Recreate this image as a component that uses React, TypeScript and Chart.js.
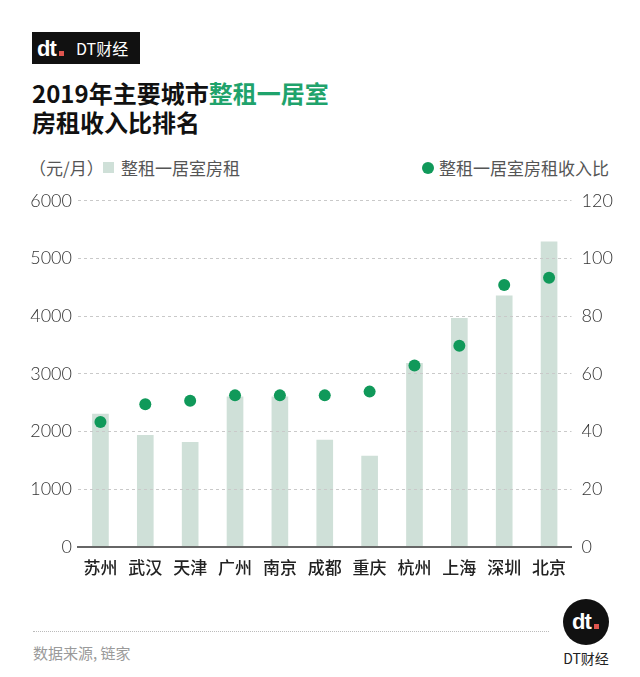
import React, { useEffect, useRef } from "react";
import { Chart, registerables } from "chart.js";

Chart.register(...registerables);

const cities = ["苏州", "武汉", "天津", "广州", "南京", "成都", "重庆", "杭州", "上海", "深圳", "北京"];
const rent = [2300, 1930, 1810, 2600, 2600, 1850, 1570, 3180, 3960, 4350, 5290];
const ratio = [43.3, 49.4, 50.6, 52.5, 52.5, 52.5, 53.8, 62.9, 69.7, 90.8, 93.3];
const rentTickStep = 1000;
const ratioTickStep = 20;

const CJK = '"Noto Sans CJK SC", "Noto Sans", sans-serif';
const NUM = 'Lato, "Noto Sans", sans-serif';
const GREEN = "#10995a";
const BAR = "#cfe0d8";

function DtGlyph({ x, y, scale = 1 }: { x: number; y: number; scale?: number }) {
  return (
    <div style={{ position: "absolute", left: x, top: y, width: 28 * scale, height: 16 * scale }}>
      <div style={{ position: "absolute", left: 0, top: 0, fontFamily: '"Liberation Sans", Arial, sans-serif', fontWeight: 900, fontSize: 22 * scale, lineHeight: `${16 * scale}px`, color: "#fff", letterSpacing: -1 * scale }}>dt</div>
      <div style={{ position: "absolute", left: 22 * scale, top: 10 * scale, width: 5 * scale, height: 5 * scale, background: "#e0554f" }} />
    </div>
  );
}

export default function App() {
  const ref = useRef<HTMLCanvasElement>(null);
  useEffect(() => {
    document.body.style.margin = "0";
    const chart = new Chart(ref.current!, {
      type: "bar",
      data: {
        labels: cities,
        datasets: [
          {
            type: "line",
            data: ratio,
            yAxisID: "y1",
            showLine: false,
            pointRadius: 6,
            pointHoverRadius: 6,
            pointBackgroundColor: GREEN,
            pointBorderWidth: 0,
            order: 0,
          } as any,
          {
            type: "bar",
            data: rent,
            yAxisID: "y",
            backgroundColor: BAR,
            barThickness: 16,
            order: 1,
          },
        ],
      },
      options: {
        responsive: false,
        animation: false,
        devicePixelRatio: 1,
        layout: { padding: { top: 18.7, left: 0, right: 0, bottom: 0 } },
        plugins: { legend: { display: false }, tooltip: { enabled: false } },
        scales: {
          x: {
            grid: { display: false },
            border: { display: true, color: "#666", width: 2, z: 2 },
            ticks: { color: "#222", font: { size: 17, family: CJK, weight: 500 }, padding: 3 },
            afterFit(a: any) { a.height = 33.3; },
          },
          y: {
            position: "left",
            min: 0,
            max: 6000,
            ticks: { stepSize: rentTickStep, color: "#333", font: { size: 18, family: NUM, weight: 300 }, padding: 6, callback: (v: any) => String(v) },
            grid: { color: "#c9c9c9", lineWidth: 1, drawTicks: false, z: 1 },
            border: { display: false, dash: [3, 3] },
            afterFit(a: any) { a.width = 78; },
          },
          y1: {
            position: "right",
            min: 0,
            max: 120,
            ticks: { stepSize: ratioTickStep, color: "#333", font: { size: 18, family: NUM, weight: 300 }, padding: 10, callback: (v: any) => String(v) },
            grid: { display: false, drawTicks: false },
            border: { display: false },
            afterFit(a: any) { a.width = 68.5; },
          },
        },
      },
    });
    return () => chart.destroy();
  }, []);

  return (
    <div style={{ position: "relative", width: 640, height: 677, background: "#fff", overflow: "hidden", fontFamily: CJK }}>
      {/* header badge */}
      <div style={{ position: "absolute", left: 32, top: 32, width: 108, height: 32, background: "#111" }}>
        <DtGlyph x={5} y={9} />
        <div style={{ position: "absolute", left: 44, top: 0, height: 32, lineHeight: "32px", color: "#fff", fontSize: 16 }}>DT财经</div>
      </div>
      {/* title */}
      <div style={{ position: "absolute", left: 32, top: 78, fontSize: 24, fontWeight: 700, lineHeight: "29px", color: "#111" }}>
        <div>2019年主要城市<span style={{ color: "#1fa36c" }}>整租一居室</span></div>
        <div>房租收入比排名</div>
      </div>
      {/* legend */}
      <div style={{ position: "absolute", left: 29, top: 156, height: 24, lineHeight: "24px", fontSize: 17, color: "#555" }}>（元/月）</div>
      <div style={{ position: "absolute", left: 103, top: 162, width: 11, height: 11, background: BAR }} />
      <div style={{ position: "absolute", left: 121, top: 156, height: 24, lineHeight: "24px", fontSize: 17, color: "#555" }}>整租一居室房租</div>
      <div style={{ position: "absolute", left: 422, top: 162, width: 12, height: 12, borderRadius: 6, background: GREEN }} />
      <div style={{ position: "absolute", left: 439, top: 156, height: 24, lineHeight: "24px", fontSize: 17, color: "#555" }}>整租一居室房租收入比</div>
      {/* chart */}
      <canvas ref={ref} width={640} height={400} style={{ position: "absolute", left: 0, top: 180, width: 640, height: 400 }} />
      {/* footer */}
      <div style={{ position: "absolute", left: 33, top: 631, width: 516, borderTop: "1px dotted #bbb" }} />
      <div style={{ position: "absolute", left: 33, top: 642, height: 22, lineHeight: "22px", fontSize: 15, color: "#9a9a9a" }}>数据来源, 链家</div>
      <div style={{ position: "absolute", left: 563, top: 599, width: 46, height: 46, borderRadius: 23, background: "#111" }}>
        <DtGlyph x={9} y={15} />
      </div>
      <div style={{ position: "absolute", left: 556, top: 648, width: 60, textAlign: "center", height: 20, lineHeight: "20px", fontSize: 14, color: "#222" }}>DT财经</div>
    </div>
  );
}
